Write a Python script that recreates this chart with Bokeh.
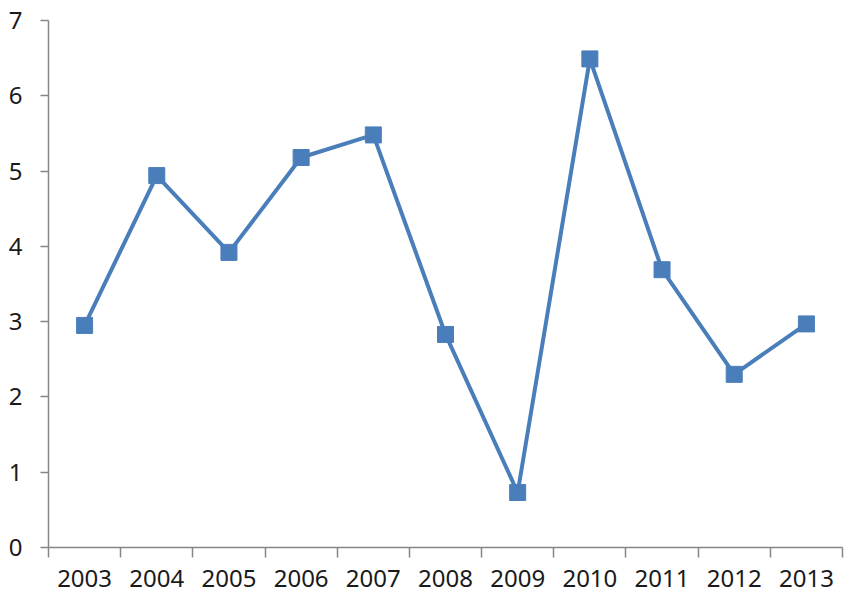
from bokeh.plotting import figure
from bokeh.models import FixedTicker, Range1d, ColumnDataSource
from bokeh.embed import file_html
from bokeh.resources import INLINE

years = ["2003", "2004", "2005", "2006", "2007", "2008", "2009", "2010", "2011", "2012", "2013"]
values = [2.95, 4.94, 3.92, 5.18, 5.48, 2.83, 0.73, 6.49, 3.69, 2.30, 2.97]
y_ticks = [0, 1, 2, 3, 4, 5, 6, 7]

xs = [i + 0.5 for i in range(len(years))]
src = ColumnDataSource(dict(x=xs, y=values, year=years))

p = figure(width=846, height=596, output_backend="svg", toolbar_location=None,
           x_range=Range1d(0, len(years)), y_range=Range1d(0, 7),
           min_border_left=48, min_border_right=4, min_border_top=20, min_border_bottom=49)
p.outline_line_color = None
p.grid.visible = False
p.background_fill_color = "white"
p.border_fill_color = "white"

color = "#4a7ebb"
p.line("x", "y", source=src, line_color=color, line_width=4)
p.scatter("x", "y", source=src, marker="square", size=16, fill_color=color, line_color=color)

axis_color = "#868686"
font = "Noto Sans"

xa = p.xaxis[0]
xa.ticker = FixedTicker(ticks=xs, minor_ticks=list(range(len(years) + 1)))
xa.major_label_overrides = {x: y for x, y in zip(xs, years)}
xa.major_tick_out = 0
xa.major_tick_in = 0
xa.minor_tick_out = 10
xa.minor_tick_in = 0
xa.minor_tick_line_color = axis_color
xa.minor_tick_line_width = 1.5
xa.axis_line_color = axis_color
xa.axis_line_width = 1.5
xa.major_label_text_font = font
xa.major_label_text_font_size = "24px"
xa.major_label_text_color = "#1a1a1a"
xa.major_label_standoff = 12

ya = p.yaxis[0]
ya.ticker = FixedTicker(ticks=y_ticks, minor_ticks=[])
ya.major_tick_out = 8
ya.major_tick_in = 0
ya.major_tick_line_color = axis_color
ya.major_tick_line_width = 1.5
ya.axis_line_color = axis_color
ya.axis_line_width = 1.5
ya.major_label_text_font = font
ya.major_label_text_font_size = "24px"
ya.major_label_text_color = "#1a1a1a"
ya.major_label_standoff = 18

open("out.html", "w").write(file_html(p, INLINE))
